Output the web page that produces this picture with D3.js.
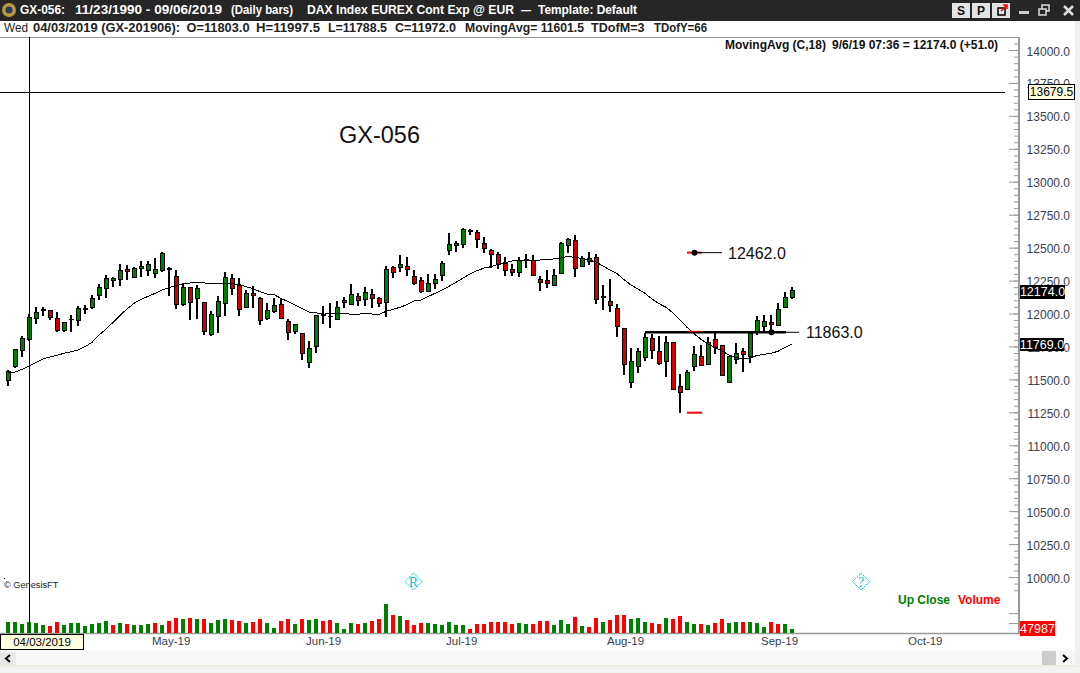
<!DOCTYPE html>
<html>
<head>
<meta charset="utf-8">
<script src="https://cdn.jsdelivr.net/npm/d3@7"></script>
<style>
  html, body { margin: 0; padding: 0; background: #fff; }
  svg { display: block; font-family: "Liberation Sans", Arial, sans-serif; }
  .axis text { font-size: 12px; fill: #39404f; font-family: "Liberation Sans", Arial, sans-serif; }
  .axis line { stroke: #999; }
  .axis path { display: none; }
</style>
</head>
<body>
<svg width="1080" height="673"></svg>
<script>
// daily bars, 03/29/2019 - 09/06/2019
const opens = [11490,11596,11718,11803,11961,12022,12024,11963,11870,11951,
  11946,12034,12044,12135,12191,12249,12257,12335,12277,12340,
  12325,12302,12325,12335,12282,12067,12199,12113,12085,11842,
  11979,12077,12267,12214,12047,12153,12115,11961,12014,12070,
  11941,11862,11849,11627,11748,11986,11976,11958,12100,12067,
  12130,12105,12146,12115,12085,12350,12348,12358,12282,12252,
  12166,12229,12290,12479,12517,12525,12626,12616,12533,12479,
  12449,12381,12335,12312,12406,12399,12259,12252,12214,12305,
  12517,12555,12358,12398,12426,12125,12092,12039,11887,11478,
  11599,11665,11812,11713,11637,11781,11447,11422,11594,11675,
  11614,11804,11758,11478,11652,11713,11675,11865,11903,11933,
  11910,12047,12123];
const highs = [11571,11733,11827,11997.5,12049,12047,12027,12009,11938,11989,
  12057,12065,12143,12221,12290,12277,12373,12366,12350,12396,
  12396,12421,12467,12353,12328,12229,12203,12214,12090,12016,
  12130,12315,12297,12267,12176,12206,12123,12077,12118,12115,
  11956,11922,11853,11791,11990,12057,12080,12095,12123,12221,
  12153,12199,12183,12123,12361,12361,12444,12429,12330,12275,
  12300,12300,12399,12611,12548,12646,12639,12634,12581,12490,
  12467,12429,12373,12429,12452,12444,12287,12328,12335,12540,
  12571,12593,12439,12464,12449,12214,12259,12070,11891,11736,
  11738,11850,11842,11827,11827,11785,11538,11569,11751,11758,
  11819,11850,11762,11680,11774,11736,11865,11978,11986,11986,
  12077,12161,12201];
const lows = [11452,11590,11672,11788.5,11920,11984,11951,11862,11862,11860,
  11905,11996,12034,12102,12118,12201,12209,12254,12269,12277,
  12285,12269,12315,12133,12034,12060,11951,11958,11837,11827,
  11852,11981,12143,11981,12042,12042,11913,11951,12004,11961,
  11799,11844,11647,11589,11700,11920,11890,11951,12042,12065,
  12057,12057,12042,12049,11973,12269,12315,12285,12216,12158,
  12163,12183,12247,12444,12467,12497,12596,12497,12459,12345,
  12338,12285,12285,12277,12345,12285,12173,12196,12211,12300,
  12462,12280,12350,12366,12075,12029,12014,11824,11536,11432,
  11546,11640,11655,11607,11521,11420,11247,11417,11561,11602,
  11610,11695,11523,11470,11614,11559,11622,11834,11865,11842,
  11903,12042,12108];
const closes = [11561,11728,11812,11972,12009,12027,11968,11872,11933,11958,
  12039,12039,12115,12199,12267,12267,12328,12318,12343,12358,
  12373,12335,12457,12340,12067,12199,12085,12191,11862,11994,
  12092,12275,12191,12029,12153,12135,11948,12024,12062,11963,
  11857,11918,11695,11736,11986,11994,11981,12047,12085,12146,
  12097,12161,12115,12075,12335,12312,12373,12335,12226,12166,
  12229,12259,12383,12525,12533,12639,12631,12563,12495,12449,
  12373,12328,12310,12399,12411,12290,12234,12226,12290,12533,
  12563,12343,12419,12419,12108,12130,12062,11903,11614,11637,
  11713,11819,11720,11622,11781,11424,11402,11553,11690,11607,
  11781,11743,11531,11675,11698,11690,11849,11948,11941,11918,
  12032,12123,12174];
const movingAvg = [11551,11556,11576,11601.5,11627,11655,11670,11683,11698,11710,
  11723,11748,11781,11837,11880,11933,11986,12034,12077,12108,
  12130,12153,12178,12196,12214,12224,12232,12239,12232,12229,
  12229,12229,12226,12221,12204,12189,12166,12148,12143,12115,
  12090,12065,12039,12011,12006,11994,12001,12001,12001,11994,
  11994,12001,11996,11994,12016,12032,12047,12067,12095,12102,
  12128,12153,12178,12206,12237,12269,12300,12325,12345,12355,
  12373,12386,12399,12399,12401,12399,12406,12409,12414,12421,
  12434,12424,12419,12406,12391,12361,12330,12302,12257,12216,
  12186,12153,12110,12075,12047,12004,11951,11895,11847,11804,
  11769,11743,11715,11685,11667,11655,11660,11682,11690,11698,
  11713,11743,11769];
const volumes = [125000,125000,103000,125000,114000,92000,81000,125000,92000,114000,
  114000,81000,103000,114000,137000,92000,114000,103000,92000,92000,
  103000,114000,92000,137000,170000,159000,170000,159000,159000,114000,
  148000,159000,148000,137000,114000,125000,159000,114000,59000,137000,
  159000,103000,159000,148000,159000,137000,148000,114000,48000,114000,
  103000,114000,137000,159000,325000,203000,192000,148000,92000,114000,
  114000,103000,92000,125000,92000,92000,48000,103000,103000,125000,
  118000,125000,103000,114000,103000,103000,137000,137000,92000,148000,
  103000,181000,81000,70000,170000,125000,148000,203000,203000,159000,
  170000,125000,114000,103000,170000,159000,192000,125000,103000,103000,
  92000,114000,159000,114000,125000,125000,125000,114000,70000,125000,
  103000,103000,47987];
const volumeUp = "GGGGGGRRGGGGGGGRGRGGGRGRRGRGRGGGRRGRRGGRRGRGGRRGGGRGRRGRGRRRGGGGGGRRRRRRRGGRRRGGGRGRRGRRRGGGRRGRRGGRGRRGGRGGGRRGGG".split("");
const priceTicks = d3.range(10000, 14001, 250);
const priceMinorTicks = d3.range(9900, 14051, 50);
const volumeTicks = [110000, 220000];
const monthIndex = [21, 43, 63, 86, 108, 129];
const monthLabels = ["May-19", "Jun-19", "Jul-19", "Aug-19", "Sep-19", "Oct-19"];

const svg = d3.select("svg");
const barCount = closes.length;

const x = d3.scaleLinear().domain([0, 112]).range([8, 792]);
const y = d3.scaleLinear().domain([10000, 14000]).range([577, 50]);
const yVol = d3.scaleLinear().domain([0, 332000]).range([633, 603]);

const green = "#008000", darkRed = "#d00000", red = "#ff0000";

// window chrome
svg.append("rect").attr("x", 1075).attr("y", 21).attr("width", 5).attr("height", 652).attr("fill", "#f0f0f0");
svg.append("rect").attr("width", 1080).attr("height", 21).attr("fill", "#262626");
svg.append("circle").attr("cx", 9).attr("cy", 10).attr("r", 7).attr("fill", "#b8993a");
svg.append("circle").attr("cx", 9).attr("cy", 10).attr("r", 3.5).attr("fill", "#2b3a5c");

const titleBits = [
  ["GX-056:", 20, 45], ["11/23/1990 - 09/06/2019", 75, 147], ["(Daily bars)", 231, 62],
  ["DAX Index EUREX Cont Exp @ EUR", 307, 207], ["\u2014", 521, 10], ["Template: Default", 538, 99]
];
svg.selectAll(".ttl").data(titleBits).enter().append("text")
  .attr("x", d => d[1]).attr("y", 14)
  .attr("fill", "#fff").attr("font-size", 12.5).attr("font-weight", "bold")
  .attr("textLength", d => d[2]).attr("lengthAdjust", "spacingAndGlyphs")
  .text(d => d[0]);

const buttons = [["S", 952], ["P", 972], ["", 992]];
svg.selectAll(".btn").data(buttons).enter().append("rect")
  .attr("x", d => d[1]).attr("y", 3).attr("width", 18).attr("height", 15).attr("fill", "#e4e4e4");
svg.selectAll(".btnt").data(buttons).enter().append("text")
  .attr("x", d => d[1] + 9).attr("y", 15).attr("text-anchor", "middle")
  .attr("font-size", 12).attr("font-weight", "bold").attr("fill", "#111").text(d => d[0]);
svg.append("rect").attr("x", 998).attr("y", 8).attr("width", 7).attr("height", 7).attr("fill", "none").attr("stroke", "#000").attr("stroke-width", 1.5);
svg.append("path").attr("d", "M1001 11L1007 5M1003 5H1007V9").attr("fill", "none").attr("stroke", "#f00").attr("stroke-width", 1.5);
svg.append("rect").attr("x", 1019).attr("y", 11).attr("width", 10).attr("height", 3).attr("fill", "#ccc");
svg.append("path").attr("d", "M1039 9h7v6h-7zM1042 9V5h7v6h-3").attr("fill", "none").attr("stroke", "#ddd").attr("stroke-width", 1.5);
svg.append("path").attr("d", "M1064 6L1073 15M1073 6L1064 15").attr("stroke", "#ddd").attr("stroke-width", 2.5);

// info row
const infoBits = [
  ["Wed", 4, "normal", 24], ["04/03/2019 (GX-201906):", 33, "bold", 147], ["O=11803.0", 186.5, "bold", 63],
  ["H=11997.5", 256, "bold", 64], ["L=11788.5", 328, "bold", 59], ["C=11972.0", 395, "bold", 61],
  ["MovingAvg= 11601.5", 465, "bold", 119], ["TDofM=3", 591, "bold", 53.5], ["TDofY=66", 654, "bold", 53]
];
svg.selectAll(".info").data(infoBits).enter().append("text")
  .attr("x", d => d[1]).attr("y", 32)
  .attr("font-size", 12).attr("font-weight", d => d[2]).attr("fill", "#222")
  .attr("textLength", d => d[3]).attr("lengthAdjust", "spacingAndGlyphs")
  .text(d => d[0]);

svg.append("line").attr("x1", 0).attr("x2", 1020).attr("y1", 37.5).attr("y2", 37.5).attr("stroke", "#999");
svg.append("line").attr("x1", 1019).attr("x2", 1019).attr("y1", 37).attr("y2", 634).attr("stroke", "#999").attr("stroke-width", 2);
svg.append("line").attr("x1", 0).attr("x2", 1020).attr("y1", 633.5).attr("y2", 633.5).attr("stroke", "#999").attr("stroke-width", 1.5);

const headerBits = [["MovingAvg (C,18)", 725], ["9/6/19 07:36 =", 832], ["12174.0 (+51.0)", 913]];
svg.selectAll(".hdr").data(headerBits).enter().append("text")
  .attr("x", d => d[1]).attr("y", 49)
  .attr("font-size", 12).attr("font-weight", "bold").attr("fill", "#111")
  .text(d => d[0]);

// price axis
svg.append("g").attr("class", "axis").attr("transform", "translate(1019,0)")
  .call(d3.axisLeft(y).tickValues(priceMinorTicks).tickSize(5).tickFormat(""));
svg.append("g").attr("class", "axis").attr("transform", "translate(1019,0)")
  .call(d3.axisLeft(y).tickValues(priceTicks).tickSize(10).tickFormat(""));
const priceLabels = svg.append("g").attr("class", "axis").attr("transform", "translate(1070,0)")
  .call(d3.axisLeft(y).tickValues(priceTicks).tickSize(0).tickPadding(0).tickFormat(d3.format(".1f")));
priceLabels.selectAll("text").attr("dy", "0.42em");
svg.append("g").attr("class", "axis").attr("transform", "translate(1019,0)")
  .call(d3.axisLeft(yVol).tickValues(volumeTicks).tickSize(10).tickFormat(""));

// month labels
const xAxis = svg.append("g").attr("class", "axis").attr("transform", "translate(0,637)")
  .call(d3.axisBottom(x).tickValues(monthIndex).tickSize(0).tickPadding(0).tickFormat((d, i) => monthLabels[i]));
xAxis.selectAll("text").attr("text-anchor", "start").attr("dx", -3.5).style("font-size", "11.5px");

// volume
svg.selectAll(".vol").data(volumes).enter().append("rect")
  .attr("x", (d, i) => x(i) - 2)
  .attr("y", d => yVol(d))
  .attr("width", 4)
  .attr("height", d => yVol(0) - yVol(d))
  .attr("fill", (d, i) => volumeUp[i] === "G" ? green : red)
  .attr("shape-rendering", "crispEdges");

// candles
const bars = d3.range(barCount);
svg.selectAll(".wick").data(bars).enter().append("line")
  .attr("x1", i => x(i)).attr("x2", i => x(i))
  .attr("y1", i => y(highs[i])).attr("y2", i => y(lows[i]))
  .attr("stroke", "#000").attr("stroke-width", 2)
  .attr("shape-rendering", "crispEdges");
svg.selectAll(".body").data(bars).enter().append("rect")
  .attr("x", i => x(i) - 1.5)
  .attr("y", i => y(Math.max(opens[i], closes[i])))
  .attr("width", 4)
  .attr("height", i => Math.abs(y(opens[i]) - y(closes[i])))
  .attr("fill", i => closes[i] >= opens[i] ? green : darkRed)
  .attr("stroke", "#000")
  .attr("shape-rendering", "crispEdges");

// moving average
svg.append("path")
  .attr("d", d3.line().x((d, i) => x(i)).y(d => y(d))(movingAvg))
  .attr("fill", "none").attr("stroke", "#000").attr("stroke-width", 1)
  .attr("shape-rendering", "crispEdges");

// crosshair
const crossPrice = 13679.5;
svg.append("line").attr("x1", x(3) + 0.5).attr("x2", x(3) + 0.5).attr("y1", 37).attr("y2", 633).attr("stroke", "#000");
svg.append("line").attr("x1", 0).attr("x2", 1005).attr("y1", Math.round(y(crossPrice)) + 0.5).attr("y2", Math.round(y(crossPrice)) + 0.5).attr("stroke", "#000");

// annotations
const swingHigh = 12462, swingLow = 11247, neckline = 11863;
const neckY = y(neckline) + 0.75;
svg.append("line").attr("x1", 687).attr("x2", 702).attr("y1", y(swingHigh)).attr("y2", y(swingHigh)).attr("stroke", "#f00").attr("stroke-width", 2);
svg.append("line").attr("x1", 694).attr("x2", 722).attr("y1", y(swingHigh)).attr("y2", y(swingHigh)).attr("stroke", "#000");
svg.append("circle").attr("cx", 694.5).attr("cy", y(swingHigh)).attr("r", 3).attr("fill", "#000");
svg.append("line").attr("x1", 687).attr("x2", 702).attr("y1", y(swingLow)).attr("y2", y(swingLow)).attr("stroke", "#f00").attr("stroke-width", 2);
svg.append("line").attr("x1", 645).attr("x2", 786).attr("y1", neckY).attr("y2", neckY).attr("stroke", "#000").attr("stroke-width", 2.5);
svg.append("line").attr("x1", 786).attr("x2", 799).attr("y1", neckY).attr("y2", neckY).attr("stroke", "#000");
svg.append("line").attr("x1", 687).attr("x2", 702).attr("y1", neckY - 1).attr("y2", neckY - 1).attr("stroke", "#f00").attr("stroke-width", 1);
svg.append("circle").attr("cx", 771.5).attr("cy", neckY).attr("r", 3).attr("fill", "#000");

const labels = [["GX-056", 339, 143, 23.5], ["12462.0", 728, 259, 16], ["11863.0", 806, 338, 16]];
svg.selectAll(".lbl").data(labels).enter().append("text")
  .attr("x", d => d[1]).attr("y", d => d[2]).attr("font-size", d => d[3]).attr("fill", "#111")
  .text(d => d[0]);

svg.append("rect").attr("x", 4).attr("y", 578).attr("width", 1).attr("height", 1).attr("fill", "#000");
svg.append("text").attr("x", 4).attr("y", 588).attr("font-size", 9.2).attr("fill", "#222").text("\u00a9 GenesisFT");
svg.append("text").attr("x", 898).attr("y", 604).attr("font-size", 12).attr("font-weight", "bold").attr("fill", green).text("Up Close");
svg.append("text").attr("x", 958).attr("y", 604).attr("font-size", 12).attr("font-weight", "bold").attr("fill", red).text("Volume");

// event markers
const markers = [["R", 413.5], ["?", 861]];
svg.selectAll(".mk").data(markers).enter().append("path")
  .attr("d", d => `M${d[1] - 8.5} 581.5L${d[1]} 573L${d[1] + 8.5} 581.5L${d[1]} 590Z`)
  .attr("fill", "none").attr("stroke", "#00c8c8").attr("stroke-dasharray", "2 1");
svg.selectAll(".mkt").data(markers).enter().append("text")
  .attr("x", d => d[1]).attr("y", 586.5).attr("text-anchor", "middle")
  .attr("font-size", 14).attr("font-family", "Liberation Serif").attr("fill", "#00c8c8")
  .text(d => d[0]);

// value flags on the right axis
function flag(x0, y0, w, h, fill, stroke, color, label, fs) {
  svg.append("rect").attr("x", x0).attr("y", y0).attr("width", w).attr("height", h)
    .attr("fill", fill).attr("stroke", stroke).attr("shape-rendering", "crispEdges");
  svg.append("text").attr("x", x0 + w / 2).attr("y", y0 + h / 2 + fs * 0.36).attr("text-anchor", "middle")
    .attr("font-size", fs).attr("fill", color).text(label);
}
flag(1028.5, 84.5, 46, 15, "#ffffe0", "#000", "#000", d3.format(".1f")(crossPrice), 12);
flag(1020, y(closes[112]) - 6, 45, 14, "#000", "none", "#fff", d3.format(".1f")(closes[112]), 12.5);
flag(1020, y(movingAvg[112]) - 6, 44, 13, "#000", "none", "#fff", d3.format(".1f")(movingAvg[112]), 12.5);
flag(1020, 621, 35, 15, "#f00", "none", "#fff", String(volumes[112]), 12.5);
flag(0.5, 634.5, 83, 15, "#ffffe0", "#000", "#000", "04/03/2019", 11.5);

// scrollbar strip
svg.append("rect").attr("y", 650).attr("width", 1075).attr("height", 15).attr("fill", "#f8f8f8");
svg.append("rect").attr("y", 665).attr("width", 1075).attr("height", 2).attr("fill", "#efece0");
svg.append("rect").attr("y", 667).attr("width", 1080).attr("height", 6).attr("fill", "#f2f4f2");
svg.append("rect").attr("x", 0).attr("y", 652).attr("width", 16).attr("height", 13).attr("fill", "#e8e8e8");
svg.append("rect").attr("x", 1042).attr("y", 651).attr("width", 14).attr("height", 14).attr("fill", "#cccccc");
svg.append("path").attr("d", "M10 655L6 658.5L10 662").attr("fill", "none").attr("stroke", "#000").attr("stroke-width", 2);
svg.append("path").attr("d", "M1063 655L1067 658.5L1063 662").attr("fill", "none").attr("stroke", "#000").attr("stroke-width", 2);
</script>
</body>
</html>
